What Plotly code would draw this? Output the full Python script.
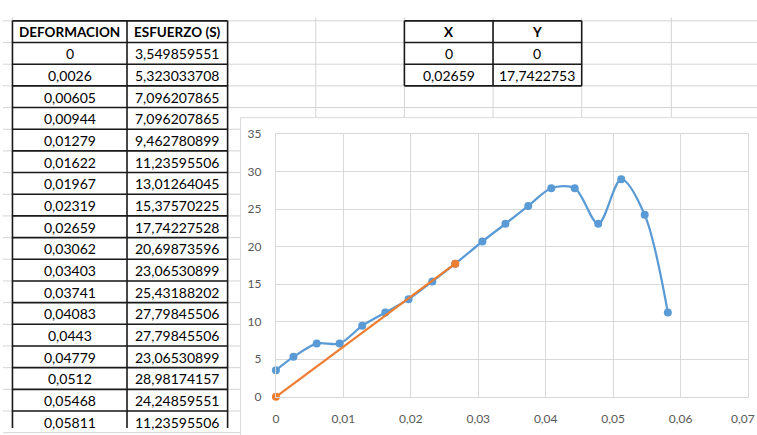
import plotly.graph_objects as go

# ---- data (as displayed in the spreadsheet) ----
deformacion = ["0", "0,0026", "0,00605", "0,00944", "0,01279", "0,01622", "0,01967",
               "0,02319", "0,02659", "0,03062", "0,03403", "0,03741", "0,04083",
               "0,0443", "0,04779", "0,0512", "0,05468", "0,05811"]
esfuerzo = ["3,549859551", "5,323033708", "7,096207865", "7,096207865", "9,462780899",
            "11,23595506", "13,01264045", "15,37570225", "17,74227528", "20,69873596",
            "23,06530899", "25,43188202", "27,79845506", "27,79845506", "23,06530899",
            "28,98174157", "24,24859551", "11,23595506"]
line_x = ["0", "0,02659"]
line_y = ["0", "17,7422753"]
headers_main = ["DEFORMACION", "ESFUERZO (S)"]
headers_xy = ["X", "Y"]
x_ticks = [0, 0.01, 0.02, 0.03, 0.04, 0.05, 0.06, 0.07]
x_ticktext = ["0", "0,01", "0,02", "0,03", "0,04", "0,05", "0,06", ""]
last_x_label = "0,07"
y_ticks = [0, 5, 10, 15, 20, 25, 30, 35]


def num(s):
    return float(s.replace(",", "."))


W, H = 757, 435


def px(x):
    return x / W


def py(y):
    return 1 - y / H


FONT = "Lato, Carlito, Calibri, sans-serif"
shapes = []
annotations = []

# spreadsheet light grid
ROW0, ROWH = 13.3, 22.45
for i in range(20):
    y = ROW0 + ROWH * i
    shapes.append(dict(type="line", xref="paper", yref="paper", x0=0, x1=1,
                       y0=py(y), y1=py(y), line=dict(color="#d4d4d4", width=1), layer="below"))
for x in [9.5, 314, 403, 492, 581, 671]:
    shapes.append(dict(type="line", xref="paper", yref="paper", x0=px(x), x1=px(x),
                       y0=py(10), y1=0, line=dict(color="#d4d4d4", width=1), layer="below"))

# chart area (white box)
shapes.append(dict(type="rect", xref="paper", yref="paper", x0=px(238.5), x1=px(760),
                   y0=py(113.5), y1=-0.02, fillcolor="white",
                   line=dict(color="#d9d9d9", width=1), layer="below"))

BORDER = dict(color="#1a1a1a", width=1.6)

# main table
cols = [9.5, 124.5, 225.5]
nrows = len(deformacion) + 1
for c in cols:
    shapes.append(dict(type="line", xref="paper", yref="paper", x0=px(c), x1=px(c),
                       y0=py(ROW0), y1=0, line=BORDER))
for r in range(nrows + 1):
    y = ROW0 + ROWH * r
    if y > H:
        break
    shapes.append(dict(type="line", xref="paper", yref="paper", x0=px(cols[0]), x1=px(cols[-1]),
                       y0=py(y), y1=py(y), line=BORDER))

rows_main = [headers_main] + [[a, b] for a, b in zip(deformacion, esfuerzo)]
for r, row in enumerate(rows_main):
    yc = ROW0 + ROWH * (r + 0.5) + 0.5
    for c, txt in enumerate(row):
        xc = (cols[c] + cols[c + 1]) / 2
        annotations.append(dict(xref="paper", yref="paper", x=px(xc), y=py(yc),
                                text=f"<b>{txt}</b>" if r == 0 else txt, showarrow=False,
                                xanchor="center", yanchor="middle",
                                font=dict(family=FONT, size=13.5 if r == 0 else 14, color="#000")))

# XY table
cols2 = [403, 492, 581]
rows_xy = [headers_xy] + [[a, b] for a, b in zip(line_x, line_y)]
for c in cols2:
    shapes.append(dict(type="line", xref="paper", yref="paper", x0=px(c), x1=px(c),
                       y0=py(ROW0), y1=py(ROW0 + ROWH * len(rows_xy)), line=BORDER))
for r in range(len(rows_xy) + 1):
    y = ROW0 + ROWH * r
    shapes.append(dict(type="line", xref="paper", yref="paper", x0=px(cols2[0]), x1=px(cols2[-1]),
                       y0=py(y), y1=py(y), line=BORDER))
for r, row in enumerate(rows_xy):
    yc = ROW0 + ROWH * (r + 0.5) + 0.5
    for c, txt in enumerate(row):
        xc = (cols2[c] + cols2[c + 1]) / 2
        annotations.append(dict(xref="paper", yref="paper", x=px(xc), y=py(yc),
                                text=f"<b>{txt}</b>" if r == 0 else txt, showarrow=False,
                                xanchor="center", yanchor="middle",
                                font=dict(family=FONT, size=13.5 if r == 0 else 14, color="#000")))

BLUE, ORANGE = "#5B9BD5", "#ED7D31"
fig = go.Figure()
fig.add_trace(go.Scatter(x=[num(v) for v in deformacion], y=[num(v) for v in esfuerzo],
                         mode="lines+markers", line=dict(color=BLUE, width=2.25, shape="spline", smoothing=0.9),
                         marker=dict(color=BLUE, size=8), cliponaxis=False, showlegend=False))
fig.add_trace(go.Scatter(x=[num(v) for v in line_x], y=[num(v) for v in line_y],
                         mode="lines+markers", line=dict(color=ORANGE, width=2.25),
                         marker=dict(color=ORANGE, size=8), cliponaxis=False, showlegend=False))

GRID = "#d9d9d9"
TICKFONT = dict(family=FONT, size=12, color="#595959")

# last x tick label sits on the window edge in the original; keep it inside the page
annotations.append(dict(xref="paper", yref="paper", x=1, y=py(403.5), yshift=-11,
                        text=last_x_label, showarrow=False, xanchor="right", yanchor="top",
                        font=TICKFONT))

fig.update_layout(
    width=W, height=H, margin=dict(l=0, r=0, t=0, b=0),
    paper_bgcolor="white", plot_bgcolor="rgba(0,0,0,0)",
    separators=",.",
    shapes=shapes, annotations=annotations,
    xaxis=dict(domain=[px(274), px(748)], range=[0, 0.07], tickvals=x_ticks, ticktext=x_ticktext,
               showgrid=True, gridcolor=GRID, gridwidth=1, zeroline=False,
               showline=True, linecolor=GRID, mirror=True, ticks="",
               tickfont=TICKFONT, ticklabelstandoff=11),
    yaxis=dict(domain=[py(402.7), py(130.7)], range=[0, 35], tickvals=y_ticks,
               showgrid=True, gridcolor=GRID, gridwidth=1, zeroline=False,
               showline=True, linecolor=GRID, mirror=True, ticks="",
               tickfont=TICKFONT, ticklabelstandoff=11),
)

fig.write_html("out.html")
